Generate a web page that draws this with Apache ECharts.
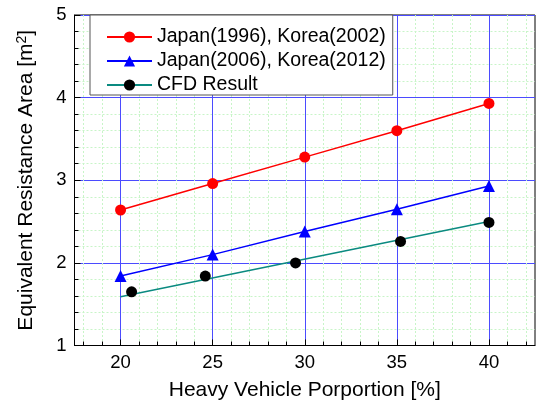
<!DOCTYPE html>
<html>
<head>
<meta charset="utf-8">
<script src="https://cdn.jsdelivr.net/npm/echarts@6/dist/echarts.min.js"></script>
<style>
html,body{margin:0;padding:0;background:#fff;}
#chart{width:536px;height:401px;}
</style>
</head>
<body>
<div id="chart"></div>
<script>
// ---- data ----
const heavyVehicle = [20, 25, 30, 35, 40];
const japan1996Korea2002 = [2.64, 2.96, 3.28, 3.60, 3.93];
const japan2006Korea2012 = [1.84, 2.10, 2.38, 2.65, 2.93];
const cfdX = [20.6, 24.6, 29.5, 35.2, 40.0];
const cfdY = [1.65, 1.84, 2.00, 2.26, 2.49];
const cfdFitX = [20, 40];
const cfdFitY = [1.59, 2.50];
const xMajorTicks = [20, 25, 30, 35, 40];
const xMinorTicks = [18, 19, 21, 22, 23, 24, 26, 27, 28, 29, 31, 32, 33, 34, 36, 37, 38, 39, 41, 42];
const seriesNames = ['Japan(1996), Korea(2002)', 'Japan(2006), Korea(2012)', 'CFD Result'];

const pairs = (xs, ys) => xs.map((x, i) => [x, ys[i]]);
const FONT = 'Liberation Sans, Arial, sans-serif';

const chart = echarts.init(document.getElementById('chart'), null, {renderer: 'canvas'});
chart.setOption({
  animation: false,
  backgroundColor: '#fff',
  textStyle: {fontFamily: FONT},
  grid: {left: 74.5, top: 15, right: 1, bottom: 55.5, containLabel: false, outerBoundsMode: 'none',
    show: true, borderColor: '#000', borderWidth: 1, backgroundColor: 'transparent'},
  legend: {
    orient: 'vertical',
    left: 90, top: 15,
    padding: [12, 7, 0, 16],
    itemGap: 4,
    itemWidth: 45, itemHeight: 14,
    backgroundColor: '#fff',
    borderColor: '#555', borderWidth: 1,
    borderRadius: 0,
    textStyle: {fontSize: 19.5, lineHeight: 18, color: '#000', fontFamily: FONT},
    data: seriesNames
  },
  xAxis: [{
    type: 'value', min: 17.5, max: 42.5,
    name: 'Heavy Vehicle Porportion [%]', nameLocation: 'middle', nameGap: 34,
    nameTextStyle: {fontSize: 21, color: '#000', fontFamily: FONT},
    axisLine: {show: true, onZero: false, lineStyle: {color: '#000', width: 1}},
    axisTick: {show: true, inside: true, length: 6, customValues: xMajorTicks, lineStyle: {color: '#000'}},
    axisLabel: {customValues: xMajorTicks, fontSize: 18.5, color: '#000', margin: 8, fontFamily: FONT},
    splitLine: {show: true, lineStyle: {color: '#4b4bff', width: 1}}
  }, {
    type: 'value', min: 17.5, max: 42.5, position: 'bottom',
    axisLine: {show: false},
    axisTick: {show: true, inside: true, length: 4, customValues: xMinorTicks, lineStyle: {color: '#000'}},
    axisLabel: {show: false, customValues: xMinorTicks},
    splitLine: {show: true, lineStyle: {color: '#c8f5c8', width: 1, type: [2, 2]}}
  }],
  yAxis: {
    type: 'value', min: 1, max: 5, interval: 1,
    name: 'Equivalent Resistance Area [m{sup|2}]', nameLocation: 'middle', nameGap: 37.5, nameRotate: 90,
    nameTextStyle: {fontSize: 21, color: '#000', fontFamily: FONT,
      rich: {sup: {fontSize: 14, color: '#000', verticalAlign: 'top', padding: [0, 0, 8, 0], fontFamily: FONT}}},
    axisLine: {show: true, lineStyle: {color: '#000', width: 1}},
    axisTick: {show: true, inside: true, length: 6, lineStyle: {color: '#000'}},
    minorTick: {show: true, splitNumber: 5, length: 4, lineStyle: {color: '#000'}},
    axisLabel: {fontSize: 18.5, color: '#000', margin: 8, fontFamily: FONT},
    splitLine: {show: true, lineStyle: {color: '#4b4bff', width: 1}},
    minorSplitLine: {show: true, lineStyle: {color: '#c8f5c8', width: 1, type: [2, 2]}}
  },
  series: [{
    name: seriesNames[0], type: 'line', xAxisIndex: 0,
    data: pairs(heavyVehicle, japan1996Korea2002),
    symbol: 'circle', symbolSize: 11,
    lineStyle: {color: '#ff0000', width: 1.5},
    itemStyle: {color: '#ff0000', opacity: 1}, z: 5
  }, {
    name: seriesNames[1], type: 'line', xAxisIndex: 0,
    data: pairs(heavyVehicle, japan2006Korea2012),
    symbol: 'triangle', symbolSize: 12,
    lineStyle: {color: '#0000ff', width: 1.5},
    itemStyle: {color: '#0000ff', opacity: 1}, z: 5
  }, {
    name: seriesNames[2], type: 'line', xAxisIndex: 0,
    data: pairs(cfdFitX, cfdFitY),
    symbol: 'circle', symbolSize: 11, showSymbol: false,
    lineStyle: {color: '#0a8a80', width: 1.5},
    itemStyle: {color: '#000', opacity: 1}, z: 4
  }, {
    name: seriesNames[2], type: 'scatter', xAxisIndex: 0,
    data: pairs(cfdX, cfdY),
    symbol: 'circle', symbolSize: 11,
    itemStyle: {color: '#000', opacity: 1}, z: 6
  }]
});
</script>
</body>
</html>
